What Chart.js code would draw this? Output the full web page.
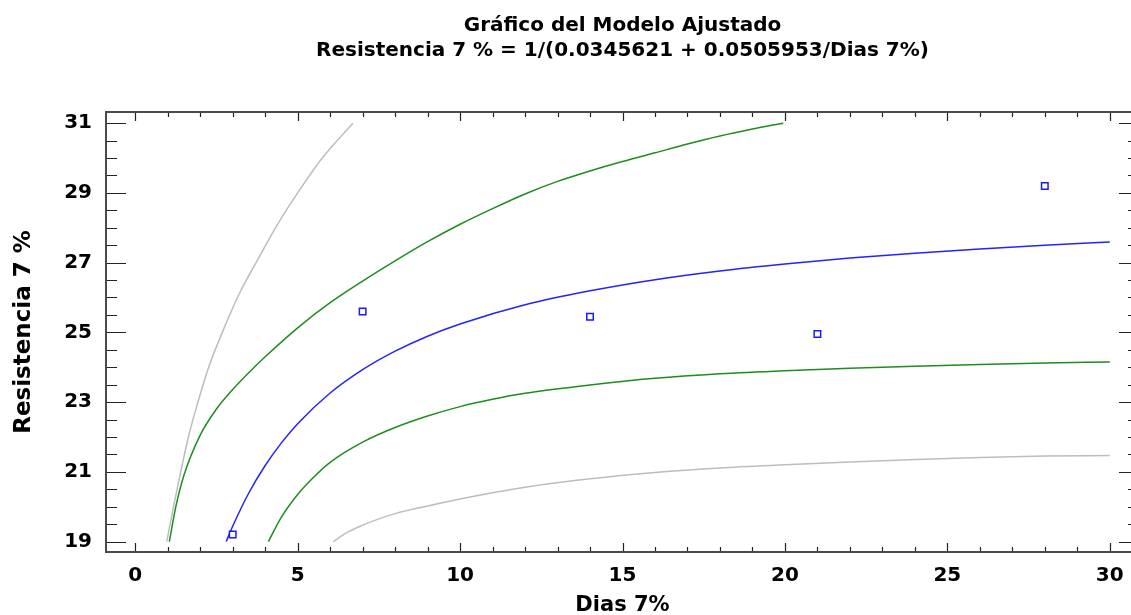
<!DOCTYPE html>
<html><head><meta charset="utf-8">
<script src="https://cdn.jsdelivr.net/npm/chart.js@4.4.1/dist/chart.umd.min.js"></script>
<style>
html,body{margin:0;padding:0;background:#fff;overflow:hidden;}
#wrap{width:1131px;height:615px;overflow:hidden;position:relative;background:#fff;}
canvas{display:block;}
</style></head>
<body><div id="wrap"><canvas id="c" width="1150" height="615" style="width:1150px;height:615px"></canvas></div>
<script>
const titleLines = ['Gráfico del Modelo Ajustado', 'Resistencia 7 % = 1/(0.0345621 + 0.0505953/Dias 7%)'];
const xAxisTitle = 'Dias 7%';
const yAxisTitle = 'Resistencia 7 %';
const xTickValues = [0, 5, 10, 15, 20, 25, 30];
const yTickValues = [19, 21, 23, 25, 27, 29, 31];

// observed points
const obsX = [3, 7, 14, 21, 28];
const obsY = [19.2, 25.6, 25.45, 24.95, 29.2];

// fitted model
const fitX = [2.8, 3, 3.5, 4, 4.5, 5, 6, 7, 8, 9, 10, 12, 14, 16, 18, 20, 22, 24, 26, 28, 30];
const fitY = [19.0, 19.44, 20.40, 21.18, 21.83, 22.38, 23.26, 23.93, 24.46, 24.89, 25.24, 25.79, 26.19, 26.51, 26.76, 26.96, 27.13, 27.27, 27.39, 27.50, 27.59];

// confidence limits (green)
const confUpX = [1.05, 1.25, 1.5, 2, 2.5, 3, 3.5, 4, 5, 6, 7, 8, 9, 10, 11, 12, 13, 14, 15, 16, 17, 18, 19, 19.95];
const confUpY = [19.0, 20.0, 20.9, 22.05, 22.8, 23.36, 23.85, 24.3, 25.13, 25.85, 26.47, 27.05, 27.6, 28.1, 28.55, 28.97, 29.33, 29.63, 29.9, 30.15, 30.4, 30.63, 30.83, 31.0];
const confLoX = [4.1, 4.5, 5, 5.5, 6, 7, 8, 9, 10, 11, 12, 14, 16, 18, 20, 22, 24, 26, 28, 30];
const confLoY = [19.0, 19.7, 20.35, 20.85, 21.27, 21.85, 22.27, 22.6, 22.87, 23.08, 23.25, 23.49, 23.68, 23.81, 23.9, 23.97, 24.03, 24.08, 24.12, 24.15];

// prediction limits (gray)
const predUpX = [0.97, 1.2, 1.4, 1.65, 1.9, 2.25, 2.68, 3.2, 3.72, 4.35, 5.0, 5.8, 6.7];
const predUpY = [19.0, 20.1, 21.0, 22.05, 22.9, 23.97, 25.0, 26.1, 27.0, 28.05, 29.0, 30.05, 31.0];
const predLoX = [6.1, 6.5, 7, 7.5, 8, 9, 10, 11, 12, 14, 16, 18, 20, 22, 24, 26, 28, 30];
const predLoY = [19.0, 19.25, 19.47, 19.65, 19.8, 20.02, 20.22, 20.4, 20.56, 20.8, 20.98, 21.11, 21.2, 21.28, 21.35, 21.41, 21.45, 21.47];

const FONT = '"DejaVu Sans", "Liberation Sans", Arial, sans-serif';
const pts = (xs, ys) => xs.map((v, i) => ({x: v, y: ys[i]}));
const curve = (xs, ys, color) => ({
  data: pts(xs, ys), showLine: true, pointRadius: 0, pointHoverRadius: 0,
  borderColor: color, borderWidth: 1.5, fill: false, cubicInterpolationMode: 'monotone'
});

const framePlugin = {
  id: 'frame',
  afterDatasetsDraw(chart) {
    const {ctx, chartArea: a, scales: {x, y}} = chart;
    ctx.save();
    ctx.strokeStyle = '#222';
    ctx.lineWidth = 1.2;
    ctx.beginPath();
    for (let v = Math.ceil(x.min); v <= x.max; v += 1) {
      const px = Math.round(x.getPixelForValue(v)) + 0.5;
      const len = xTickValues.includes(v) ? 9 : 5;
      ctx.moveTo(px, a.bottom); ctx.lineTo(px, a.bottom - len);
      ctx.moveTo(px, a.top); ctx.lineTo(px, a.top + len);
    }
    for (let v = Math.ceil(y.min * 2) / 2; v <= y.max; v += 0.5) {
      const py = Math.round(y.getPixelForValue(v)) + 0.5;
      const len = yTickValues.includes(v) ? 20 : 11;
      ctx.moveTo(a.left, py); ctx.lineTo(a.left + len, py);
      ctx.moveTo(a.right, py); ctx.lineTo(a.right - len, py);
    }
    ctx.stroke();
    ctx.strokeStyle = '#4a4a4a';
    ctx.lineWidth = 2;
    ctx.strokeRect(a.left, a.top, a.right - a.left, a.bottom - a.top);
    ctx.restore();
  }
};

new Chart(document.getElementById('c'), {
  type: 'scatter',
  data: {
    datasets: [
      {data: pts(obsX, obsY), pointStyle: 'rect', pointRadius: 4.6, pointHoverRadius: 4.6,
       borderColor: '#1a1aff', backgroundColor: '#ffffff', pointBorderWidth: 1.5, showLine: false},
      curve(fitX, fitY, '#2323ff'),
      curve(confUpX, confUpY, '#1e8c1e'),
      curve(confLoX, confLoY, '#1e8c1e'),
      curve(predUpX, predUpY, '#bdbdbd'),
      curve(predLoX, predLoY, '#bdbdbd')
    ]
  },
  options: {
    responsive: false, animation: false, devicePixelRatio: 1,
    layout: {padding: {left: 0, right: 11, top: 0, bottom: 0}},
    plugins: {
      legend: {display: false}, tooltip: {enabled: false},
      title: {
        display: true, text: titleLines, fullSize: false, color: '#000',
        font: {family: FONT, size: 20, weight: 'bold', lineHeight: 1.25},
        padding: {top: 13.5, bottom: 48.5}
      }
    },
    scales: {
      x: {
        type: 'linear', position: 'bottom', min: -0.9, max: 30.9,
        grid: {display: false, drawTicks: false}, border: {display: false},
        afterBuildTicks: s => { s.ticks = xTickValues.map(v => ({value: v})); },
        afterFit: s => { s.height = 63; },
        ticks: {color: '#000', padding: 12, maxRotation: 0, font: {family: FONT, size: 20, weight: 'bold'},
                callback: v => String(v)},
        title: {display: true, text: xAxisTitle, color: '#000', padding: {top: 0, bottom: 0},
                font: {family: FONT, size: 21, weight: 'bold', lineHeight: 0.9}}
      },
      y: {
        type: 'linear', position: 'left', min: 18.7, max: 31.32,
        grid: {display: false, drawTicks: false}, border: {display: false},
        afterBuildTicks: s => { s.ticks = yTickValues.map(v => ({value: v})); },
        afterFit: s => { s.width = 106; },
        ticks: {color: '#000', padding: 14, font: {family: FONT, size: 20, weight: 'bold'},
                callback: v => String(v)},
        title: {display: true, text: yAxisTitle, color: '#000', padding: {top: 10, bottom: 0},
                font: {family: FONT, size: 23, weight: 'bold', lineHeight: 1.2}}
      }
    }
  },
  plugins: [framePlugin]
});
</script>
</body></html>
